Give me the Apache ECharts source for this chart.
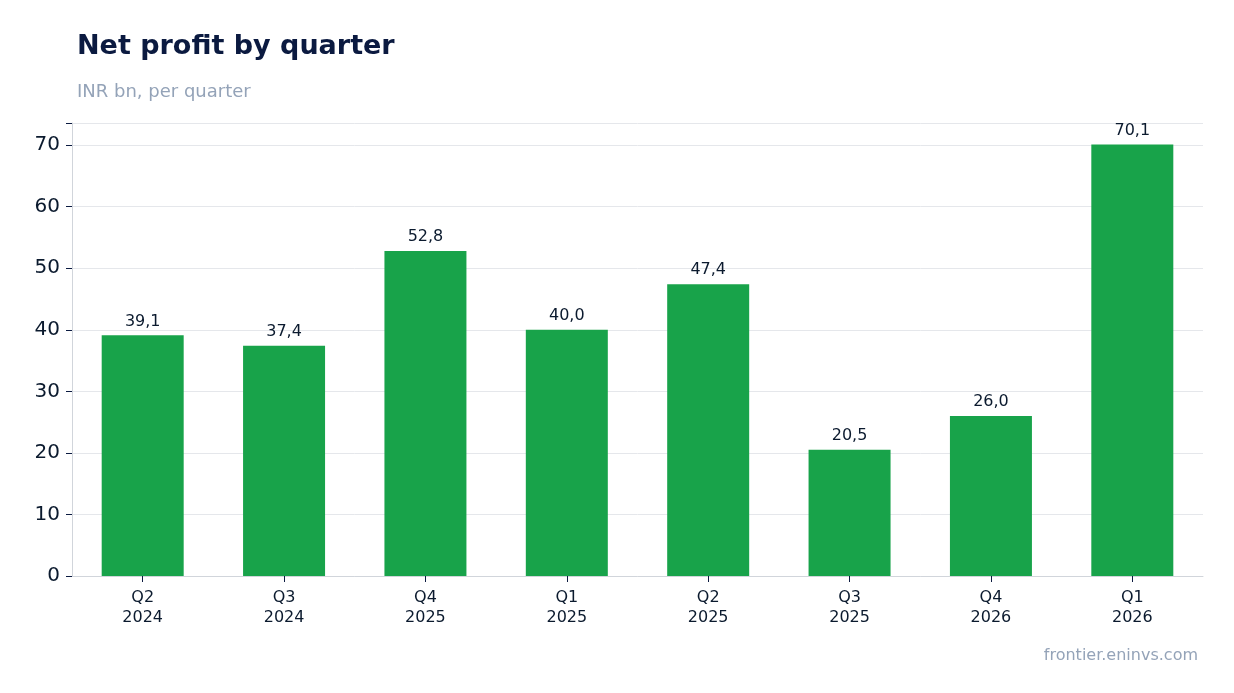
<!DOCTYPE html>
<html><head><meta charset="utf-8">
<script src="https://cdn.jsdelivr.net/npm/echarts@6/dist/echarts.min.js"></script>
<style>html,body{margin:0;padding:0;background:#fff}#c{width:1234px;height:693px}</style>
</head><body><div id="c"></div>
<script>
const categories = ["Q2\n2024","Q3\n2024","Q4\n2025","Q1\n2025","Q2\n2025","Q3\n2025","Q4\n2026","Q1\n2026"];
const values = [39.1,37.4,52.8,40.0,47.4,20.5,26.0,70.1];
const chart = echarts.init(document.getElementById('c'));
chart.setOption({
  animation:false,
  title:[{text:"Net profit by quarter",left:72,top:28,textStyle:{fontFamily:"DejaVu Sans",fontSize:27,fontWeight:"bold",color:"#0b1a40"}},
         {text:"INR bn, per quarter",left:72,top:78,textStyle:{fontFamily:"DejaVu Sans",fontSize:18,fontWeight:"normal",color:"#94a3b8"}},
         {text:"frontier.eninvs.com",right:31,top:643,textStyle:{fontFamily:"DejaVu Sans",fontSize:16,fontWeight:"normal",color:"#94a3b8"}}],
  grid:{left:72,right:31,top:123,bottom:117,containLabel:false},
  xAxis:{type:"category",data:categories,axisLine:{lineStyle:{color:"#d1d5db"}},axisTick:{show:true,alignWithLabel:true,length:6,lineStyle:{color:"#0b1a40"}},
    axisLabel:{fontFamily:"DejaVu Sans",fontSize:16,color:"#0b1a2e",margin:12,lineHeight:20}},
  yAxis:{type:"value",min:0,max:73.6,interval:10,axisLine:{show:true,lineStyle:{color:"#d1d5db"}},axisTick:{show:true,length:6,lineStyle:{color:"#0b1a40"}},
    splitLine:{lineStyle:{color:"#e5e7eb"}},
    axisLabel:{fontFamily:"DejaVu Sans",fontSize:20,color:"#0b1a2e",margin:12,formatter:v=>v%10===0?String(v):""}},
  series:[{type:"bar",data:values,barWidth:"58%",itemStyle:{color:"#18a34a"},
    label:{show:true,position:"top",distance:6,fontFamily:"DejaVu Sans",fontSize:16,color:"#0b1a2e",formatter:p=>p.value.toFixed(1).replace(".",",")}}]
});
</script></body></html>
